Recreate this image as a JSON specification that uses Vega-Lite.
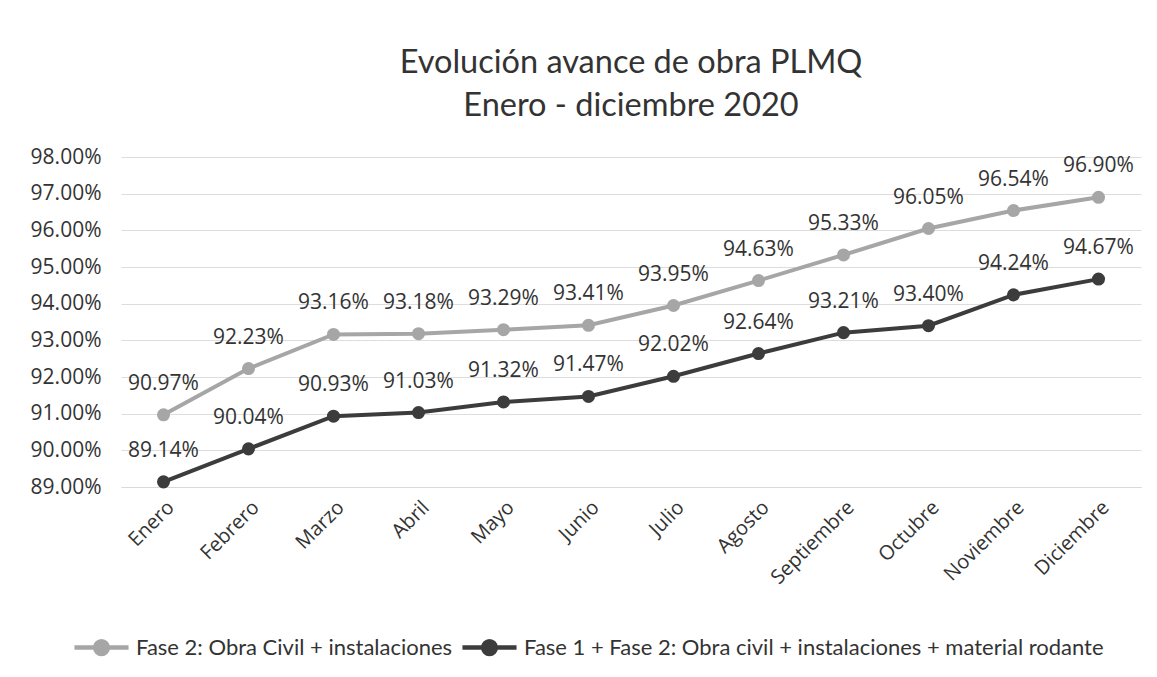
{
  "$schema": "https://vega.github.io/schema/vega-lite/v6.json",
  "width": 1020,
  "height": 330,
  "padding": {"left": 30, "top": 46, "right": 14, "bottom": 10},
  "background": "white",
  "title": {
    "text": ["Evolución avance de obra PLMQ", "Enero - diciembre 2020"],
    "font": "Lato",
    "fontSize": 32.5,
    "fontWeight": "normal",
    "color": "#333333",
    "lineHeight": 43,
    "anchor": "middle",
    "offset": 24
  },
  "data": {
    "values": [
      {"mes": "Enero", "serie": "Fase 2: Obra Civil + instalaciones", "valor": 0.9097},
      {"mes": "Febrero", "serie": "Fase 2: Obra Civil + instalaciones", "valor": 0.9223},
      {"mes": "Marzo", "serie": "Fase 2: Obra Civil + instalaciones", "valor": 0.9316},
      {"mes": "Abril", "serie": "Fase 2: Obra Civil + instalaciones", "valor": 0.9318},
      {"mes": "Mayo", "serie": "Fase 2: Obra Civil + instalaciones", "valor": 0.9329},
      {"mes": "Junio", "serie": "Fase 2: Obra Civil + instalaciones", "valor": 0.9341},
      {"mes": "Julio", "serie": "Fase 2: Obra Civil + instalaciones", "valor": 0.9395},
      {"mes": "Agosto", "serie": "Fase 2: Obra Civil + instalaciones", "valor": 0.9463},
      {"mes": "Septiembre", "serie": "Fase 2: Obra Civil + instalaciones", "valor": 0.9533},
      {"mes": "Octubre", "serie": "Fase 2: Obra Civil + instalaciones", "valor": 0.9605},
      {"mes": "Noviembre", "serie": "Fase 2: Obra Civil + instalaciones", "valor": 0.9654},
      {"mes": "Diciembre", "serie": "Fase 2: Obra Civil + instalaciones", "valor": 0.969},
      {"mes": "Enero", "serie": "Fase 1 + Fase 2: Obra civil + instalaciones + material rodante", "valor": 0.8914},
      {"mes": "Febrero", "serie": "Fase 1 + Fase 2: Obra civil + instalaciones + material rodante", "valor": 0.9004},
      {"mes": "Marzo", "serie": "Fase 1 + Fase 2: Obra civil + instalaciones + material rodante", "valor": 0.9093},
      {"mes": "Abril", "serie": "Fase 1 + Fase 2: Obra civil + instalaciones + material rodante", "valor": 0.9103},
      {"mes": "Mayo", "serie": "Fase 1 + Fase 2: Obra civil + instalaciones + material rodante", "valor": 0.9132},
      {"mes": "Junio", "serie": "Fase 1 + Fase 2: Obra civil + instalaciones + material rodante", "valor": 0.9147},
      {"mes": "Julio", "serie": "Fase 1 + Fase 2: Obra civil + instalaciones + material rodante", "valor": 0.9202},
      {"mes": "Agosto", "serie": "Fase 1 + Fase 2: Obra civil + instalaciones + material rodante", "valor": 0.9264},
      {"mes": "Septiembre", "serie": "Fase 1 + Fase 2: Obra civil + instalaciones + material rodante", "valor": 0.9321},
      {"mes": "Octubre", "serie": "Fase 1 + Fase 2: Obra civil + instalaciones + material rodante", "valor": 0.934},
      {"mes": "Noviembre", "serie": "Fase 1 + Fase 2: Obra civil + instalaciones + material rodante", "valor": 0.9424},
      {"mes": "Diciembre", "serie": "Fase 1 + Fase 2: Obra civil + instalaciones + material rodante", "valor": 0.9467}
    ]
  },
  "encoding": {
    "x": {
      "field": "mes",
      "type": "nominal",
      "sort": null,
      "title": null,
      "scale": {"paddingInner": 0, "paddingOuter": 0},
      "axis": {
        "labelAngle": -45,
        "labelFont": "Open Sans",
        "labelFontSize": 20,
        "labelColor": "#333333",
        "ticks": false,
        "domainColor": "#d9d9d9",
        "domainWidth": 1,
        "labelPadding": 10,
        "grid": false
      }
    },
    "y": {
      "field": "valor",
      "type": "quantitative",
      "title": null,
      "scale": {"domain": [0.89, 0.98], "nice": false, "zero": false},
      "axis": {
        "format": ".2%",
        "values": [0.89, 0.9, 0.91, 0.92, 0.93, 0.94, 0.95, 0.96, 0.97, 0.98],
        "labelFont": "Open Sans",
        "labelFontSize": 21,
        "labelColor": "#333333",
        "ticks": false,
        "domain": false,
        "labelPadding": 20,
        "gridColor": "#dddddd",
        "gridWidth": 1
      }
    },
    "color": {
      "field": "serie",
      "type": "nominal",
      "scale": {
        "domain": ["Fase 2: Obra Civil + instalaciones", "Fase 1 + Fase 2: Obra civil + instalaciones + material rodante"],
        "range": ["#a6a6a6", "#3c3c3c"]
      },
      "legend": {
        "orient": "none",
        "legendX": -40,
        "legendY": 470,
        "direction": "horizontal",
        "title": null,
        "labelFont": "Lato",
        "labelFontSize": 22,
        "labelColor": "#333333",
        "labelLimit": 0,
        "symbolType": "M-1.5,0L1.5,0M0.35,0A0.35,0.35,0,1,1,-0.35,0A0.35,0.35,0,1,1,0.35,0Z",
        "symbolSize": 1300,
        "symbolStrokeWidth": 4.5,
        "symbolOffset": 0,
        "columnPadding": 0,
        "labelOffset": 14
      }
    }
  },
  "layer": [
    {"mark": {"type": "line", "strokeWidth": 4}},
    {"mark": {"type": "point", "filled": true, "size": 170, "opacity": 1}},
    {
      "mark": {"type": "text", "dy": -31, "font": "Open Sans", "fontSize": 21, "color": "#333333"},
      "encoding": {
        "text": {"field": "valor", "type": "quantitative", "format": ".2%"},
        "color": {"value": "#333333"}
      }
    }
  ],
  "config": {"view": {"stroke": null}}
}
